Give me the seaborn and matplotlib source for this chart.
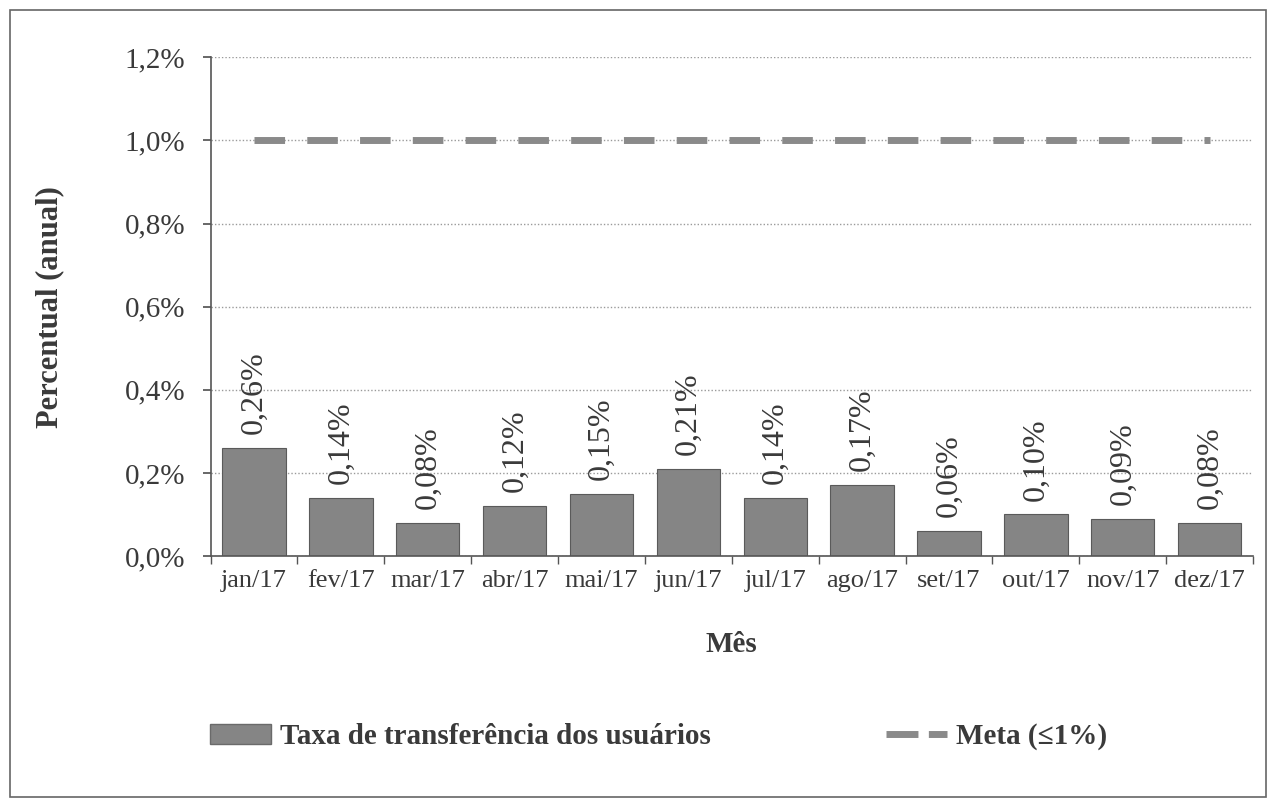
import numpy as np
import pandas as pd
import matplotlib
matplotlib.use("Agg")
import matplotlib.pyplot as plt
import seaborn as sns
from matplotlib.ticker import FuncFormatter, MultipleLocator
from matplotlib.patches import Patch, Rectangle
from matplotlib.lines import Line2D

# --- Data ---
months = ["jan/17", "fev/17", "mar/17", "abr/17", "mai/17", "jun/17",
          "jul/17", "ago/17", "set/17", "out/17", "nov/17", "dez/17"]
taxa = [0.26, 0.14, 0.08, 0.12, 0.15, 0.21, 0.14, 0.17, 0.06, 0.10, 0.09, 0.08]
meta = [1.0] * 12

df = pd.DataFrame({"Mes": months, "Taxa": taxa, "Meta": meta})

# --- Style ---
sns.set_theme(style="white")
plt.rcParams["font.family"] = ["Liberation Serif", "DejaVu Serif"]
bar_color = "#858585"
line_color = "#8a8a8a"
text_color = "#3a3a3a"

fig = plt.figure(figsize=(12.76, 8.07), dpi=100)
ax = fig.add_axes([0.165, 0.311, 0.817, 0.618])

sns.barplot(data=df, x="Mes", y="Taxa", color=bar_color, width=0.73,
            edgecolor="#5a5a5a", linewidth=0.8, saturation=1, ax=ax)
sns.lineplot(data=df, x="Mes", y="Meta", color=line_color, linewidth=5,
             ax=ax, legend=False)
ax.lines[-1].set_dashes([4.4, 3.2])

# value labels
for i, v in enumerate(taxa):
    ax.annotate(f"{v:.2f}%".replace(".", ","), (i, v), xytext=(0, 10),
                textcoords="offset points", rotation=90, ha="center",
                va="bottom", fontsize=23, color=text_color)

# axes
ax.set_ylim(0, 1.2)
ax.set_xlim(-0.5, 11.5)
ax.yaxis.set_major_locator(MultipleLocator(0.2))
ax.yaxis.set_major_formatter(FuncFormatter(lambda v, p: f"{v:.1f}%".replace(".", ",")))
ax.grid(axis="y", linestyle=(0, (1, 1.5)), color="#9a9a9a", linewidth=1)
ax.set_axisbelow(True)
for s in ["top", "right"]:
    ax.spines[s].set_visible(False)
for s in ["left", "bottom"]:
    ax.spines[s].set_color("#555555")
    ax.spines[s].set_linewidth(1.2)

ax.set_xticks(np.arange(-0.5, 12, 1), minor=True)
ax.tick_params(axis="x", which="major", length=0, labelsize=19, colors=text_color, pad=10)
ax.tick_params(axis="x", which="minor", length=6, direction="out", color="#555555", bottom=True)
ax.tick_params(axis="y", which="major", length=6, direction="out", left=True,
               labelsize=21, colors=text_color, color="#555555", pad=12)

ax.set_xlabel("Mês", fontsize=21, fontweight="bold", color=text_color, labelpad=28)
ax.set_ylabel("Percentual (anual)", fontsize=22, fontweight="bold", color=text_color, labelpad=44)

# legend
handles = [Patch(facecolor=bar_color, edgecolor="#6a6a6a"),
           Line2D([0], [0], color=line_color, linewidth=5, dashes=[4.6, 1.5])]
fig.legend(handles, ["Taxa de transferência dos usuários", "Meta (≤1%)"],
           loc="center", bbox_to_anchor=(0.516, 0.087), ncol=2, frameon=False,
           columnspacing=6, handlelength=2.1, handletextpad=0.3,
           prop={"weight": "bold", "size": 21}, labelcolor=text_color)

# outer frame
fig.patches.append(Rectangle((0.008, 0.012), 0.984, 0.975, transform=fig.transFigure,
                             fill=False, edgecolor="#666666", linewidth=1.2))

fig.savefig("out.png", dpi=100, facecolor="white")
